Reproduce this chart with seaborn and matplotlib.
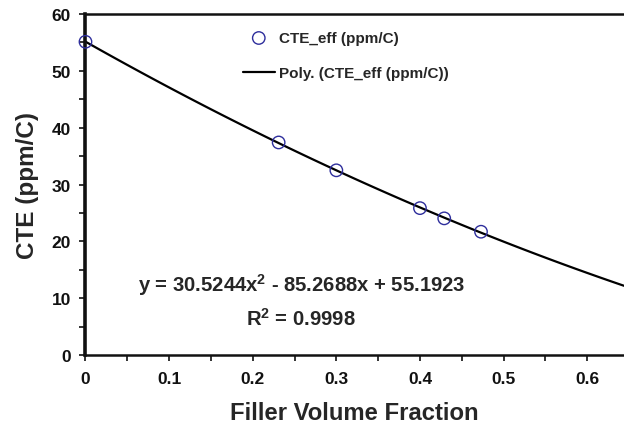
"""
CTE vs filler volume fraction, with 2nd order poly trendline
"""
import matplotlib
matplotlib.use("Agg")
import matplotlib.pyplot as plt
from matplotlib.ticker import MultipleLocator
import seaborn as sns
import pandas as pd

# data
filler_fraction = [0.0, 0.231, 0.300, 0.400, 0.429, 0.473]
cte_eff = [55.1, 37.4, 32.5, 25.85, 24.05, 21.7]

x_ticks = [0, 0.1, 0.2, 0.3, 0.4, 0.5, 0.6]
x_tick_labels = ["0", "0.1", "0.2", "0.3", "0.4", "0.5", "0.6"]
y_ticks = [0, 10, 20, 30, 40, 50, 60]

eq_text = "y = 30.5244x$^{2}$ - 85.2688x + 55.1923"
r2_text = "R$^{2}$ = 0.9998"

df = pd.DataFrame({"fraction": filler_fraction, "cte": cte_eff})

sns.set_style("ticks")
plt.rcParams["font.family"] = ["Liberation Sans", "DejaVu Sans"]
plt.rcParams["font.weight"] = "bold"
plt.rcParams["mathtext.fontset"] = "custom"
plt.rcParams["mathtext.rm"] = "Liberation Sans:bold"
plt.rcParams["mathtext.bf"] = "Liberation Sans:bold"
plt.rcParams["mathtext.default"] = "rm"

fig = plt.figure(figsize=(6.24, 4.27), dpi=100)
ax = fig.add_axes([0.137, 0.166, 0.863, 0.799])

ax.set_xlim(0, 0.644)
ax.set_ylim(0, 60)

# trendline first so it extends over the whole axis
sns.regplot(
    data=df, x="fraction", y="cte", ax=ax,
    order=2, ci=None, truncate=False, scatter=False,
    line_kws={"color": "black", "linewidth": 1.6},
    label="Poly. (CTE_eff (ppm/C))",
)
sns.scatterplot(
    data=df, x="fraction", y="cte", ax=ax,
    marker="o", s=80, facecolor="none", edgecolor="#2e2e9c",
    linewidth=1.0, label="CTE_eff (ppm/C)", zorder=3, clip_on=False,
)

# legend, markers first like the original
handles, labels = ax.get_legend_handles_labels()
order = [labels.index("CTE_eff (ppm/C)"), labels.index("Poly. (CTE_eff (ppm/C))")]
leg = ax.legend(
    [handles[i] for i in order], [labels[i] for i in order],
    loc="upper left", bbox_to_anchor=(0.292, 0.95), frameon=False,
    prop={"size": 11, "weight": "bold"}, handlelength=2.1,
    handletextpad=0.3, labelspacing=1.4, borderpad=0, borderaxespad=0,
)

ax.text(0.258, 12.5, eq_text, fontsize=14.6, fontweight="bold", ha="center", va="center")
ax.text(0.258, 6.6, r2_text, fontsize=14.6, fontweight="bold", ha="center", va="center")

ax.set_xticks(x_ticks)
ax.set_xticklabels(x_tick_labels)
ax.set_yticks(y_ticks)
ax.xaxis.set_minor_locator(MultipleLocator(0.05))
ax.yaxis.set_minor_locator(MultipleLocator(5))
ax.tick_params(axis="both", which="both", direction="out", length=4.5, width=1.2,
               labelsize=12.5, colors="#111111")
ax.tick_params(axis="x", which="major", pad=7)
ax.tick_params(axis="y", which="major", pad=6)
for lbl in ax.get_xticklabels() + ax.get_yticklabels():
    lbl.set_fontweight("bold")

ax.set_xlabel("Filler Volume Fraction", fontsize=17.2, fontweight="bold", labelpad=11)
ax.set_ylabel("CTE (ppm/C)", fontsize=17.5, fontweight="bold", labelpad=9)

ax.spines["left"].set_linewidth(2.6)
ax.spines["bottom"].set_linewidth(1.8)
ax.spines["top"].set_visible(True)
ax.spines["top"].set_linewidth(1.8)
ax.spines["right"].set_visible(False)
for s in ax.spines.values():
    s.set_color("#111111")

fig.savefig("out.png", dpi=100)
plt.close(fig)
